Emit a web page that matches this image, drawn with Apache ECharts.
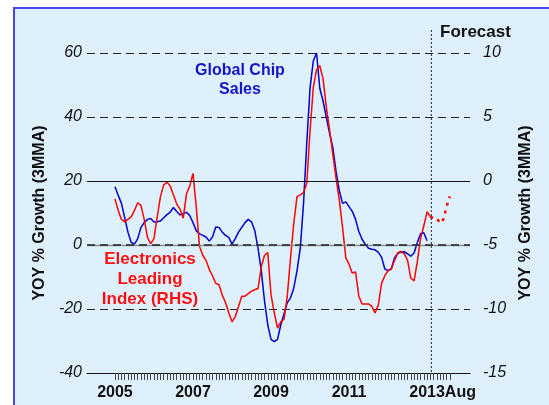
<!DOCTYPE html>
<html>
<head>
<meta charset="utf-8">
<style>
  html, body { margin: 0; padding: 0; background: #fff; }
  #chart { width: 549px; height: 405px; }
</style>
<script src="https://cdn.jsdelivr.net/npm/echarts@6.0.0/dist/echarts.min.js"></script>
</head>
<body>
<div id="chart"></div>
<script>
// months counted from 2005 Jan (0) to 2013 Aug (103)
const labelMonths = [0, 24, 48, 72, 96];
const yearLabels = ["2005", "2007", "2009", "2011", "2013Aug"];
const lastMonth = 103;
const forecastStart = 97.3;

// Global chip sales, YOY % (3MMA), left axis, 2005 Jan .. 2013 Jan
const chipSales = [
  18.2, 15.5, 13, 8.5, 4, 0.8, 0.3, 2, 5.5, 7,
  8, 8.3, 7.2, 7.3, 7.5, 8.5, 9.5, 10.3, 11.7, 10.5,
  9.4, 9.8, 10.2, 9.2, 7, 4.5, 3.5, 3, 2.5, 1.2,
  2.5, 5.6, 5.5, 4, 3, 2.4, 0.3, 2, 4, 5.5,
  7, 8, 7.2, 4.5, -1, -8, -17.5, -25, -29.5, -30.2,
  -29.5, -25, -21.5, -18, -16.5, -13.5, -8, -1, 13, 32,
  49, 57.5, 60, 49, 45, 40, 35, 30.5, 23, 17,
  13, 13.5, 12, 10.5, 8, 4.2, 1.8, 0.2, -1, -1.3,
  -1.5, -2.3, -3.8, -7.5, -8, -7.4, -4, -2.6, -2.3, -2.1,
  -2.8, -3.5, -2.5, 0.8, 3.5, 3.8, 1.3
];

// Electronics leading index, right axis, 2005 Jan .. 2013 Feb
const leadingIndex = [
  -1.4, -2.3, -3.0, -3.2, -3.0, -2.8, -2.3, -1.7, -1.9, -3.0,
  -4.4, -4.9, -4.5, -2.8, -1.2, -0.3, -0.1, -0.4, -1.1, -1.8,
  -2.2, -2.9, -1.0, -0.4, 0.6, -2.0, -5.1, -5.8, -6.2, -6.9,
  -7.4, -8.0, -8.1, -8.9, -9.5, -10.3, -11.0, -10.6, -9.8, -9.0,
  -9.0, -8.8, -8.6, -8.5, -8.4, -6.7, -5.8, -5.6, -8.9, -10.3,
  -11.5, -11.0, -10.8, -9.0, -6.0, -3.3, -1.2, -1.1, -0.9, -0.2,
  3.9, 7.3, 8.7, 9.0, 8.0, 5.8, 4.0, 2.1, 0.2, -1.5,
  -3.6, -6.0, -6.5, -7.2, -7.1, -9.0, -9.6, -9.6, -9.6, -9.8,
  -10.3, -9.7, -8.0, -7.4, -7.0, -6.9, -6.2, -5.6, -5.5, -5.7,
  -6.2, -7.6, -7.8, -6.3, -4.5, -3.5, -2.4, -2.8
];

// forecast, 2013 Feb .. 2013 Aug
const forecastStartMonth = 97;
const leadingForecast = [-2.8, -2.9, -2.9, -3.3, -3.0, -2.0, -1.2];

function toPairs(values, start) {
  return values.map((v, i) => [start + i, v]);
}

const tickMonths = [];
for (let m = 0; m <= lastMonth; m++) tickMonths.push(m);

const FONT = "Liberation Sans";

const chart = echarts.init(document.getElementById("chart"));
chart.setOption({
  animation: false,
  backgroundColor: "#fff",
  textStyle: { fontFamily: FONT },
  title: {
    text: "Forecast",
    left: 440,
    top: 24,
    padding: 0,
    textStyle: { fontFamily: FONT, fontWeight: "bold", fontSize: 17, color: "#111" },
  },
  grid: { left: 87, right: 79, top: 53, bottom: 32 },
  xAxis: {
    type: "value",
    min: -8.6,
    max: 109.2,
    splitLine: { show: false },
    axisLine: { onZero: false, lineStyle: { color: "#111", width: 1.2 } },
    axisTick: {
      customValues: tickMonths,
      length: 7,
      lineStyle: { color: "#444", width: 1 },
    },
    axisLabel: {
      customValues: labelMonths,
      margin: 12,
      fontFamily: FONT,
      fontWeight: "bold",
      fontSize: 16,
      color: "#111",
      formatter: function (v) {
        const i = labelMonths.indexOf(v);
        if (i < 0) return "";
        if (i == labelMonths.length - 1) return "{last|" + yearLabels[i] + "}";
        return yearLabels[i];
      },
      rich: {
        last: {
          fontFamily: FONT,
          fontWeight: "bold",
          fontSize: 16,
          color: "#111",
          padding: [0, 0, 0, 31],
        },
      },
    },
  },
  yAxis: [
    {
      type: "value",
      position: "left",
      min: -40,
      max: 60,
      interval: 20,
      name: "YOY % Growth (3MMA)",
      nameLocation: "middle",
      nameGap: 36,
      nameTextStyle: { fontFamily: FONT, fontWeight: "bold", fontSize: 16, color: "#111" },
      axisLine: { show: false },
      axisTick: { show: false },
      axisLabel: {
        margin: 5,
        fontFamily: FONT,
        fontStyle: "italic",
        fontSize: 16,
        color: "#111",
      },
      splitLine: {
        lineStyle: { color: "#222", width: 1.2, type: [8, 5] },
      },
    },
    {
      type: "value",
      position: "right",
      min: -15,
      max: 10,
      interval: 5,
      name: "YOY % Growth (3MMA)",
      nameLocation: "middle",
      nameRotate: 90,
      nameGap: 48,
      nameTextStyle: { fontFamily: FONT, fontWeight: "bold", fontSize: 16, color: "#111" },
      axisLine: { show: false },
      axisTick: { show: false },
      axisLabel: {
        margin: 13,
        fontFamily: FONT,
        fontStyle: "italic",
        fontSize: 16,
        color: "#111",
      },
      splitLine: { show: false },
    },
  ],
  series: [
    {
      name: "Global Chip Sales",
      type: "line",
      yAxisIndex: 0,
      data: toPairs(chipSales, 0),
      showSymbol: false,
      lineStyle: { color: "#0000cc", width: 1.5 },
      markLine: {
        silent: true,
        symbol: "none",
        label: { show: false },
        data: [
          { yAxis: 20, lineStyle: { color: "#111", width: 1.2, type: "solid" } },
          { yAxis: 0, lineStyle: { color: "#8a8f96", width: 1.4, type: "solid" } },
          { yAxis: 0, lineStyle: { color: "#222", width: 1.6, type: [8, 5] } },
        ],
      },
    },
    {
      name: "Electronics Leading Index (RHS)",
      type: "line",
      yAxisIndex: 1,
      data: toPairs(leadingIndex, 0),
      showSymbol: false,
      lineStyle: { color: "#ff0000", width: 1.5 },
    },
    {
      name: "Forecast",
      type: "line",
      yAxisIndex: 1,
      data: toPairs(leadingForecast, forecastStartMonth),
      showSymbol: false,
      lineStyle: { color: "#ff0000", width: 2.5, type: [3, 5] },
    },
  ],
});

// frame, forecast divider and annotations
const fx = chart.convertToPixel({ xAxisIndex: 0 }, forecastStart);
const fy = chart.convertToPixel({ yAxisIndex: 0 }, -40);
chart.setOption({
  graphic: [
    {
      type: "rect",
      z: -10,
      shape: { x: 14, y: 8, width: 600, height: 500 },
      style: { fill: "#dff0fd", stroke: "#4646f2", lineWidth: 2 },
    },
    {
      type: "line",
      shape: { x1: fx, y1: 30, x2: fx, y2: fy },
      style: { stroke: "#222", lineWidth: 1, lineDash: [2, 2] },
    },
    {
      type: "text",
      x: 240,
      y: 61,
      style: {
        text: "Global Chip\nSales",
        fill: "#1414c8",
        font: "bold 16px " + FONT,
        textAlign: "center",
        textVerticalAlign: "top",
        lineHeight: 19,
      },
    },
    {
      type: "text",
      x: 150,
      y: 249,
      style: {
        text: "Electronics\nLeading\nIndex (RHS)",
        fill: "#ff1010",
        font: "bold 17px " + FONT,
        textAlign: "center",
        textVerticalAlign: "top",
        lineHeight: 20,
      },
    },
  ],
});
</script>
</body>
</html>
